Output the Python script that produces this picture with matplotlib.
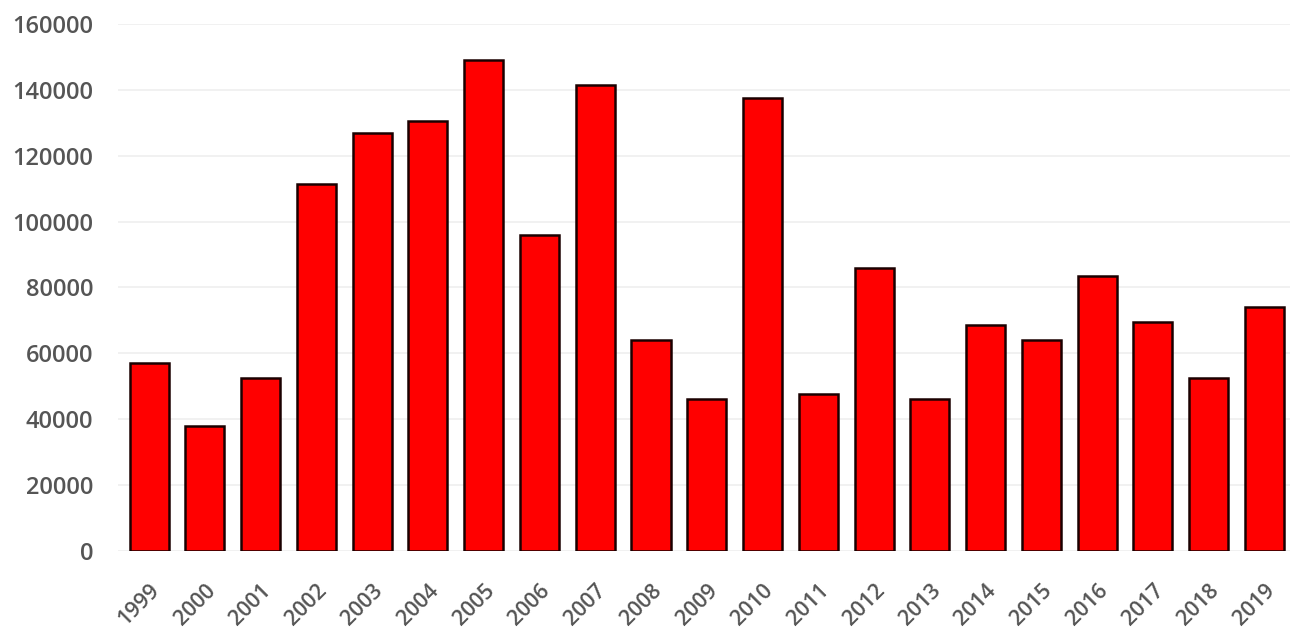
import numpy as np
import matplotlib.pyplot as plt
import matplotlib.transforms as mtransforms

# yearly values
years = [str(y) for y in range(1999, 2020)]
values = [57000, 38000, 52500, 111500, 127000, 130500, 149000, 96000, 141500, 64000,
          46000, 137500, 47500, 86000, 46000, 68500, 64000, 83500, 69500, 52500, 74000]
y_ticks = list(range(0, 160001, 20000))

plt.rcParams['font.family'] = ['Open Sans', 'DejaVu Sans']

fig = plt.figure(figsize=(12.9, 6.36), dpi=100)
ax = fig.add_axes([0.0915, 0.134, 0.9085, 0.828])

x = np.arange(len(years))
ax.bar(x, values, width=0.70, color='#ff0000', edgecolor='#1a0000', linewidth=1.8, zorder=3)

ax.set_xlim(-0.556, len(years) - 0.543)
ax.set_ylim(0, 160000)
ax.set_yticks(y_ticks)
ax.set_yticklabels([str(v) for v in y_ticks], fontsize=17, fontweight='semibold')
ax.set_xticks(x)
ax.set_xticklabels(years, rotation=45, ha='right', rotation_mode='anchor',
                   fontsize=15.5, fontweight='semibold')

# nudge the rotated year labels a little to the right
shift = mtransforms.ScaledTranslation(5 / 100, 0, fig.dpi_scale_trans)
for lbl in ax.get_xticklabels():
    lbl.set_transform(lbl.get_transform() + shift)

ax.yaxis.grid(True, color='#efefef', linewidth=1.2, zorder=0)
for s in ax.spines.values():
    s.set_visible(False)
ax.tick_params(axis='both', length=0, colors='#555555')
ax.tick_params(axis='y', pad=18)
ax.tick_params(axis='x', pad=21)

fig.savefig('out.png', dpi=100, facecolor='white')
